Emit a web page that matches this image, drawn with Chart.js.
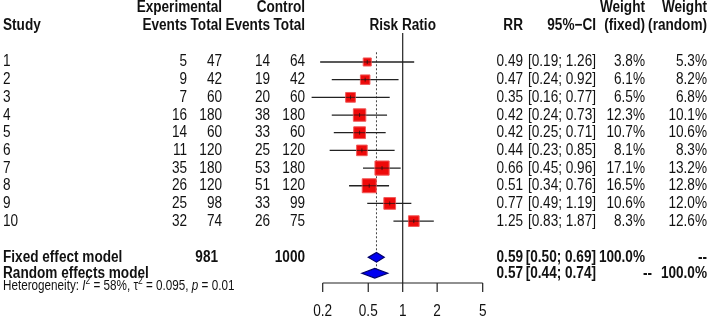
<!DOCTYPE html>
<html>
<head>
<meta charset="utf-8">
<script src="https://cdn.jsdelivr.net/npm/chart.js@4.4.1/dist/chart.umd.min.js"></script>
<style>
  html, body { margin: 0; padding: 0; background: #fff; }
  #wrap { position: relative; width: 709px; height: 317px; }
</style>
</head>
<body>
<div id="wrap"><canvas id="chart" width="709" height="317"></canvas></div>
<script>
// Forest plot - risk ratio meta-analysis of 10 studies
const studies = ['1', '2', '3', '4', '5', '6', '7', '8', '9', '10'];
const expEvents = [5, 9, 7, 16, 14, 11, 35, 26, 25, 32];
const expTotal = [47, 42, 60, 180, 60, 120, 180, 120, 98, 74];
const ctrlEvents = [14, 19, 20, 38, 33, 25, 53, 51, 33, 26];
const ctrlTotal = [64, 42, 60, 180, 60, 120, 180, 120, 99, 75];
const rr = [0.49, 0.47, 0.35, 0.42, 0.42, 0.44, 0.66, 0.51, 0.77, 1.25];
const ciLow = [0.19, 0.24, 0.16, 0.24, 0.25, 0.23, 0.45, 0.34, 0.49, 0.83];
const ciHigh = [1.26, 0.92, 0.77, 0.73, 0.71, 0.85, 0.96, 0.76, 1.19, 1.87];
const wFixed = [3.8, 6.1, 6.5, 12.3, 10.7, 8.1, 17.1, 16.5, 10.6, 8.3];
const wRandom = [5.3, 8.2, 6.8, 10.1, 10.6, 8.3, 13.2, 12.8, 12.0, 12.6];

const summaryLabels = ['Fixed effect model', 'Random effects model'];
const summaryRR = [0.59, 0.57];
const summaryLow = [0.50, 0.44];
const summaryHigh = [0.69, 0.74];
const summaryWFixed = ['100.0%', '--'];
const summaryWRandom = ['--', '100.0%'];
const totalExp = 981;
const totalCtrl = 1000;

const xTicks = [0.2, 0.5, 1, 2, 5];

const FONT = '"Liberation Sans", Arial, sans-serif';
const INK = '#111';

// text is a bit taller than wide in the original, so stretch it vertically
function txt(ctx, s, x, y, align, bold, size) {
    ctx.save();
    ctx.font = (bold ? 'bold ' : '') + (size || 13.6) + 'px ' + FONT;
    ctx.textAlign = align || 'left';
    ctx.textBaseline = 'middle';
    ctx.fillStyle = INK;
    ctx.translate(x, y);
    ctx.scale(1, 1.2);
    ctx.fillText(s, 0, 0);
    ctx.restore();
}

function ci(lo, hi) {
    return '[' + lo.toFixed(2) + '; ' + hi.toFixed(2) + ']';
}

function squareSide(i) {
    return 2.6 + 2.8 * Math.sqrt(wFixed[i]);
}

const rowY = studies.map(function (s, i) { return i + 1; });
const summaryY = [12.05, 12.95];

const forestPlugin = {
    id: 'forest',
    beforeDatasetsDraw: function (chart) {
        const ctx = chart.ctx;
        const xs = chart.scales.x, ys = chart.scales.y;
        ctx.save();
        // line of no effect
        ctx.strokeStyle = '#222';
        ctx.lineWidth = 1.2;
        ctx.beginPath();
        ctx.moveTo(xs.getPixelForValue(1), ys.getPixelForValue(-0.64));
        ctx.lineTo(xs.getPixelForValue(1), ys.bottom);
        ctx.stroke();
        // fixed effect estimate (dotted)
        ctx.setLineDash([2, 2]);
        ctx.strokeStyle = '#444';
        ctx.lineWidth = 1;
        const fx = xs.getPixelForValue(summaryRR[0]);
        ctx.beginPath();
        ctx.moveTo(fx, ys.getPixelForValue(0.45));
        ctx.lineTo(fx, ys.getPixelForValue(13.0));
        ctx.stroke();
        ctx.setLineDash([]);
        // confidence intervals
        ctx.strokeStyle = '#222';
        ctx.lineWidth = 1.3;
        rr.forEach(function (v, i) {
            const y = ys.getPixelForValue(rowY[i]);
            ctx.beginPath();
            ctx.moveTo(xs.getPixelForValue(ciLow[i]), y);
            ctx.lineTo(xs.getPixelForValue(ciHigh[i]), y);
            ctx.stroke();
        });
        ctx.restore();
    },
    afterDatasetsDraw: function (chart) {
        const ctx = chart.ctx;
        const xs = chart.scales.x, ys = chart.scales.y;
        ctx.save();
        // line + centre mark through each square
        ctx.strokeStyle = 'rgba(20,20,20,0.7)';
        ctx.lineWidth = 1;
        rr.forEach(function (v, i) {
            const x = xs.getPixelForValue(v);
            const y = ys.getPixelForValue(rowY[i]);
            const h = squareSide(i) / 2;
            ctx.beginPath();
            ctx.moveTo(x - h, y);
            ctx.lineTo(x + h, y);
            ctx.moveTo(x, y - 2);
            ctx.lineTo(x, y + 2);
            ctx.stroke();
        });
        // summary diamonds
        summaryRR.forEach(function (v, k) {
            const y = ys.getPixelForValue(summaryY[k]);
            ctx.beginPath();
            ctx.moveTo(xs.getPixelForValue(summaryLow[k]), y);
            ctx.lineTo(xs.getPixelForValue(v), y - 4.8);
            ctx.lineTo(xs.getPixelForValue(summaryHigh[k]), y);
            ctx.lineTo(xs.getPixelForValue(v), y + 4.8);
            ctx.closePath();
            ctx.fillStyle = '#0000f0';
            ctx.fill();
            ctx.strokeStyle = '#00006a';
            ctx.lineWidth = 1.2;
            ctx.stroke();
        });
        // x axis from first to last tick
        const axY = ys.bottom;
        ctx.strokeStyle = '#222';
        ctx.lineWidth = 1.2;
        ctx.beginPath();
        ctx.moveTo(xs.getPixelForValue(xTicks[0]), axY);
        ctx.lineTo(xs.getPixelForValue(xTicks[xTicks.length - 1]), axY);
        xTicks.forEach(function (t) {
            const x = xs.getPixelForValue(t);
            ctx.moveTo(x, axY);
            ctx.lineTo(x, axY + 9);
        });
        ctx.stroke();
        xTicks.forEach(function (t) {
            txt(ctx, String(t), xs.getPixelForValue(t), axY + 28, 'center', false);
        });
        ctx.restore();

        // header
        txt(ctx, 'Experimental', 222, 7, 'right', true);
        txt(ctx, 'Control', 305, 7, 'right', true);
        txt(ctx, 'Weight', 645, 7, 'right', true);
        txt(ctx, 'Weight', 707, 7, 'right', true);
        txt(ctx, 'Study', 3, 25, 'left', true);
        txt(ctx, 'Events', 187, 25, 'right', true);
        txt(ctx, 'Total', 222, 25, 'right', true);
        txt(ctx, 'Events', 270, 25, 'right', true);
        txt(ctx, 'Total', 305, 25, 'right', true);
        txt(ctx, 'Risk Ratio', xs.getPixelForValue(1), 25, 'center', true);
        txt(ctx, 'RR', 523, 25, 'right', true);
        txt(ctx, '95%\u2212CI', 596, 25, 'right', true);
        txt(ctx, '(fixed)', 645, 25, 'right', true);
        txt(ctx, '(random)', 707, 25, 'right', true);

        // study rows
        studies.forEach(function (s, i) {
            const y = ys.getPixelForValue(rowY[i]);
            txt(ctx, s, 3, y, 'left', false);
            txt(ctx, String(expEvents[i]), 187, y, 'right', false);
            txt(ctx, String(expTotal[i]), 222, y, 'right', false);
            txt(ctx, String(ctrlEvents[i]), 270, y, 'right', false);
            txt(ctx, String(ctrlTotal[i]), 305, y, 'right', false);
            txt(ctx, rr[i].toFixed(2), 523, y, 'right', false);
            txt(ctx, ci(ciLow[i], ciHigh[i]), 596, y, 'right', false);
            txt(ctx, wFixed[i].toFixed(1) + '%', 645, y, 'right', false);
            txt(ctx, wRandom[i].toFixed(1) + '%', 707, y, 'right', false);
        });

        // summary rows
        summaryLabels.forEach(function (s, k) {
            const y = ys.getPixelForValue(summaryY[k]);
            txt(ctx, s, 3, y, 'left', true);
            txt(ctx, summaryRR[k].toFixed(2), 523, y, 'right', true);
            txt(ctx, ci(summaryLow[k], summaryHigh[k]), 596, y, 'right', true);
            txt(ctx, summaryWFixed[k], summaryWFixed[k] === '--' ? 652 : 645, y, 'right', true);
            txt(ctx, summaryWRandom[k], 707, y, 'right', true);
        });
        const fy = ys.getPixelForValue(summaryY[0]);
        txt(ctx, String(totalExp), 218, fy, 'right', true);
        txt(ctx, String(totalCtrl), 305, fy, 'right', true);

        // heterogeneity line with italics and superscripts
        const hy = 286;
        const parts = [
            ['Heterogeneity: ', ''], ['I', 'italic '], ['2', 'sup'], [' = 58%, ', ''],
            ['\u03c4', ''], ['2', 'sup'], [' = 0.095, ', ''], ['p', 'italic '], [' = 0.01', '']
        ];
        let hx = 3;
        ctx.save();
        ctx.fillStyle = INK;
        ctx.textBaseline = 'middle';
        ctx.textAlign = 'left';
        parts.forEach(function (p) {
            const sup = p[1] === 'sup';
            const size = sup ? 8.5 : 11.7;
            ctx.font = (sup ? '' : p[1]) + size + 'px ' + FONT;
            const w = ctx.measureText(p[0]).width;
            ctx.save();
            ctx.translate(hx, sup ? hy - 5 : hy);
            ctx.scale(1, 1.2);
            ctx.fillText(p[0], 0, 0);
            ctx.restore();
            hx += w;
        });
        ctx.restore();
    }
};

new Chart(document.getElementById('chart'), {
    type: 'scatter',
    data: {
        datasets: [{
            label: 'Studies',
            data: rr.map(function (v, i) { return { x: v, y: rowY[i] }; }),
            pointStyle: 'rect',
            pointRadius: function (c) { return squareSide(c.dataIndex) / Math.SQRT2; },
            backgroundColor: '#ee0a0a',
            borderColor: '#f25a5a',
            borderWidth: 1
        }]
    },
    options: {
        responsive: false,
        animation: false,
        events: [],
        layout: { padding: { left: 288.25, right: 191.85, top: 44.3, bottom: 34 } },
        plugins: {
            legend: { display: false },
            tooltip: { enabled: false }
        },
        scales: {
            x: { type: 'logarithmic', min: 0.1, max: 10, display: false },
            y: { type: 'linear', min: 0, max: 13.5, reverse: true, display: false }
        }
    },
    plugins: [forestPlugin]
});
</script>
</body>
</html>
